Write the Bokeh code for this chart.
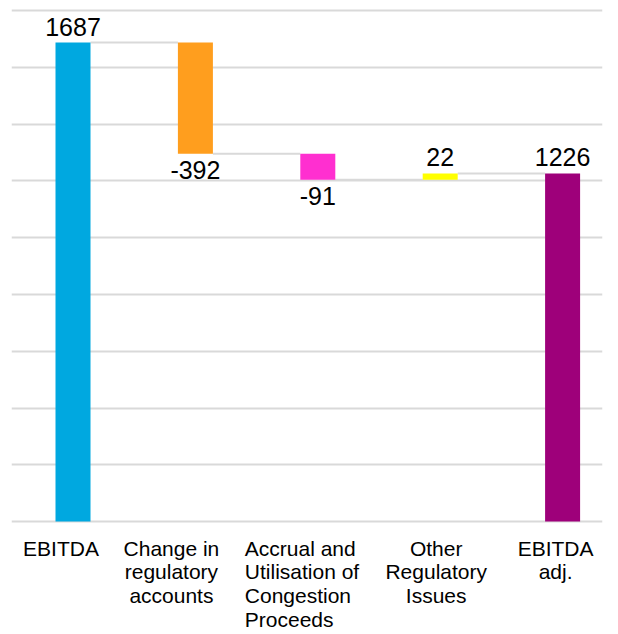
from bokeh.plotting import figure
from bokeh.models import ColumnDataSource, Range1d, Grid, FixedTicker
from bokeh.core.properties import value
from bokeh.embed import file_html
from bokeh.resources import INLINE

# ---- data ----
categories = ["EBITDA", "Change in\nregulatory\naccounts",
              "Accrual and\nUtilisation of\nCongestion\nProceeds",
              "Other\nRegulatory\nIssues", "EBITDA\nadj."]
values = [1687, -392, -91, 22, 1226]
kinds = ["total", "delta", "delta", "delta", "total"]
value_labels = ["1687", "-392", "-91", "22", "1226"]
grid_ticks = [0, 200, 400, 600, 800, 1000, 1200, 1400, 1600, 1800]

colors = ["#00A8E0", "#FF9E1E", "#FF2FD0", "#FFFF00", "#9E007A"]
label_dx = [-12, -24, 0, -4, -7]
FONT = "Liberation Sans"

# waterfall geometry derived from values
bottoms, tops, ends = [], [], []
running = 0
for v, k in zip(values, kinds):
    if k == "total":
        b, t = 0, v
        running = v
    else:
        start = running
        running = running + v
        b, t = min(start, running), max(start, running)
    bottoms.append(b)
    tops.append(t)
    ends.append(running)

xs = list(range(len(values)))
W = 0.286

src = ColumnDataSource(dict(x=xs, top=tops, bottom=bottoms, color=colors))

p = figure(width=618, height=634, output_backend="svg", toolbar_location=None,
           x_axis_type=None, y_axis_type=None,
           x_range=Range1d(-0.5025, 4.326), y_range=Range1d(-397.5, 1835),
           min_border_left=11, min_border_right=16, min_border_top=0,
           min_border_bottom=0)
p.outline_line_color = None
p.background_fill_color = "white"
p.border_fill_color = "white"

p.add_layout(Grid(dimension=1, ticker=FixedTicker(ticks=grid_ticks),
                  grid_line_color="#D9D9D9", grid_line_width=2))

# connectors
cx0 = [i + W / 2 for i in xs[:-1]]
cx1 = [i + 1 - W / 2 for i in xs[:-1]]
cy = ends[:-1]
p.segment(x0=cx0, y0=cy, x1=cx1, y1=cy, line_color="#D9D9D9", line_width=2)

p.vbar(x="x", top="top", bottom="bottom", width=W, fill_color="color",
       line_color=None, source=src)

# value labels
up_x, up_y, up_t, dn_x, dn_y, dn_t = [], [], [], [], [], []
for i, (v, k) in enumerate(zip(values, kinds)):
    if k == "total" or v >= 0:
        up_x.append(i); up_y.append(tops[i]); up_t.append(value_labels[i])
    else:
        dn_x.append(i); dn_y.append(bottoms[i]); dn_t.append(value_labels[i])
p.text(x=up_x, y=up_y, text=up_t, text_font=value(FONT), text_font_size="25px",
       text_align="center", text_baseline="alphabetic", y_offset=-16,
       text_color="black")
p.text(x=dn_x, y=dn_y, text=dn_t, text_font=value(FONT), text_font_size="25px",
       text_align="center", text_baseline="alphabetic", y_offset=16,
       text_color="black")

# category labels
c_idx = [0, 1, 3, 4]
p.text(x=c_idx, y=[0] * len(c_idx), text=[categories[i] for i in c_idx],
       x_offset=[label_dx[i] for i in c_idx], y_offset=15,
       text_font=value(FONT), text_font_size="21px", text_align="center",
       text_baseline="top", text_line_height=1.03, text_color="black")
p.text(x=[2], y=[0], text=[categories[2]], x_offset=-73, y_offset=15,
       text_font=value(FONT), text_font_size="21px", text_align="left",
       text_baseline="top", text_line_height=1.03, text_color="black")

open("out.html", "w").write(file_html(p, INLINE))
